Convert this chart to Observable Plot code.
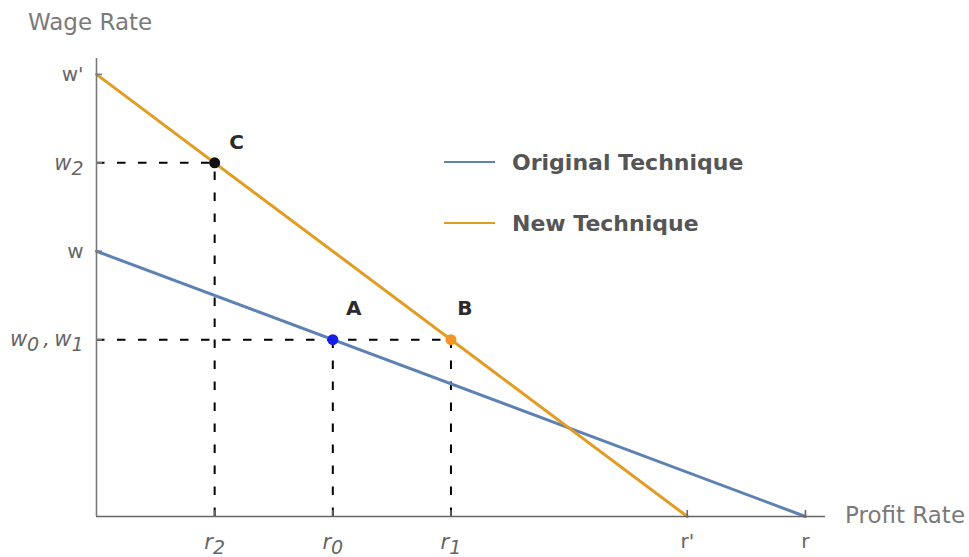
<!DOCTYPE html>
<html><head><meta charset="utf-8">
<script src="https://cdn.jsdelivr.net/npm/d3@7"></script>
<script src="https://cdn.jsdelivr.net/npm/@observablehq/plot@0.6"></script>
<style>
body{margin:0;background:#fff;}
#wrap{position:relative;width:969px;height:557px;font-family:"DejaVu Sans",sans-serif;}
.axt{position:absolute;color:#7a7a7a;font-size:23px;line-height:23px;white-space:nowrap;}
.leg{position:absolute;left:444px;white-space:nowrap;}
.leg .sw{position:absolute;left:0;width:51px;height:0;border-top:2.6px solid;}
.leg .tx{position:absolute;left:68px;top:0;font-weight:bold;font-size:22px;line-height:22px;color:#555;}
</style></head><body><div id="wrap"></div>
<script>
// ---- data ----
const originalTechnique = [{r: 0, w: 6}, {r: 12, w: 0}];
const newTechnique = [{r: 0, w: 10}, {r: 10, w: 0}];
const pointNames = ["A", "B", "C"];
const pointR = [4, 6, 2];
const pointW = [4, 4, 8];
const xTicks = [2, 4, 6, 10, 12];
const xTickLabels = ["r_2", "r_0", "r_1", "r'", "r"];
const yTicks = [10, 8, 6, 4];
const yTickLabels = ["w'", "w_2", "w", "w_0\u2009,\u2009w_1"];
const seriesNames = ["Original Technique", "New Technique"];

// ---- styles ----
const colors = {"Original Technique": "#5E81B5", "New Technique": "#E19C24"};
const pointColors = {A: "#1c1ce8", B: "#F39426", C: "#111111"};
const labelOffsets = {A: [21, -31], B: [14, -31], C: [22, -20]};
const xMax = 12.34, yMax = 10.36;
const M = {left: 96, right: 144, top: 58, bottom: 41};
const W = 969, H = 557;
const tickPxY = 6 * yMax / (H - M.top - M.bottom);
const tickPxX = 6 * xMax / (W - M.left - M.right);

const points = pointNames.map((name, i) => ({name, r: pointR[i], w: pointW[i]}));
const xt = xTicks.map((v, i) => ({v, label: xTickLabels[i]}));
const yt = yTicks.map((v, i) => ({v, label: yTickLabels[i]}));
const hGuides = points.filter(p => !points.some(q => q.w === p.w && q.r > p.r));

const labelMarks = pointNames.map(n => Plot.text(points.filter(p => p.name === n), {
  x: "r", y: "w", text: "name", dx: labelOffsets[n][0], dy: labelOffsets[n][1],
  fontSize: 20, fontWeight: "bold", fill: "#2b2b2b", fontFamily: "DejaVu Sans"
}));

const dash = {stroke: "#000", strokeWidth: 2, strokeDasharray: "8.5,12.5"};

const svg = Plot.plot({
  width: W, height: H,
  marginLeft: M.left, marginRight: M.right, marginTop: M.top, marginBottom: M.bottom,
  x: {domain: [0, xMax], axis: null},
  y: {domain: [0, yMax], axis: null},
  style: {fontFamily: "DejaVu Sans", background: "white"},
  marks: [
    Plot.ruleY(hGuides, {y: "w", x1: 0, x2: "r", ...dash}),
    Plot.ruleX(points, {x: "r", y1: 0, y2: "w", ...dash}),
    Plot.line(originalTechnique, {x: "r", y: "w", stroke: colors["Original Technique"], strokeWidth: 3}),
    Plot.line(newTechnique, {x: "r", y: "w", stroke: colors["New Technique"], strokeWidth: 3}),
    Plot.ruleY([0], {x1: 0, x2: xMax, stroke: "#666", strokeWidth: 1.6}),
    Plot.ruleX([0], {y1: 0, y2: yMax, stroke: "#7a7a7a", strokeWidth: 1.6}),
    Plot.ruleX(xt, {x: "v", y1: 0, y2: tickPxY, stroke: "#666", strokeWidth: 1.6}),
    Plot.ruleY(yt, {y: "v", x1: 0, x2: tickPxX, stroke: "#7a7a7a", strokeWidth: 1.6}),
    Plot.dot(points, {x: "r", y: "w", r: 5.5, fill: d => pointColors[d.name], stroke: "none"}),
    ...labelMarks,
    Plot.text(xt.filter(d => d.label.includes("_")), {x: "v", y: 0, text: "label", dy: 26, fontSize: 21, fontStyle: "italic", fill: "#666"}),
    Plot.text(xt.filter(d => !d.label.includes("_")), {x: "v", y: 0, text: "label", dy: 25, fontSize: 20, fill: "#666"}),
    Plot.text(yt.filter(d => d.label.includes("_")), {x: 0, y: "v", text: "label", dx: -13, textAnchor: "end", fontSize: 21, fontStyle: "italic", fill: "#666"}),
    Plot.text(yt.filter(d => !d.label.includes("_")), {x: 0, y: "v", text: "label", dx: -13, textAnchor: "end", fontSize: 20, fill: "#666"})
  ]
});

// subscripts as real text via tspans
const NS = "http://www.w3.org/2000/svg";
svg.querySelectorAll("text").forEach(t => {
  const s = t.textContent;
  if (!s.includes("_")) return;
  t.textContent = "";
  const parts = s.split(/(_\d)/).filter(Boolean);
  let shifted = false;
  for (const p of parts) {
    const ts = document.createElementNS(NS, "tspan");
    if (p.startsWith("_")) {
      ts.textContent = p.slice(1);
      ts.setAttribute("dy", "5");
      ts.setAttribute("font-size", "19");
      shifted = true;
    } else {
      ts.textContent = p;
      if (shifted) { ts.setAttribute("dy", "-5"); shifted = false; }
    }
    t.appendChild(ts);
  }
});

const wrap = document.getElementById("wrap");
wrap.appendChild(svg);
svg.style.position = "absolute"; svg.style.left = "0"; svg.style.top = "0";

function addDiv(cls, text, left, top) {
  const d = document.createElement("div");
  d.className = cls; d.textContent = text;
  d.style.left = left + "px"; d.style.top = top + "px";
  wrap.appendChild(d); return d;
}
addDiv("axt", "Wage Rate", 28, 10.5);
addDiv("axt", "Profit Rate", 845, 503.5);

const legendTops = [152.4, 212.5];
seriesNames.forEach((name, i) => {
  const g = document.createElement("div");
  g.className = "leg"; g.style.top = legendTops[i] + "px";
  const sw = document.createElement("div");
  sw.className = "sw"; sw.style.borderTopColor = colors[name]; sw.style.top = "9px";
  const tx = document.createElement("div");
  tx.className = "tx"; tx.textContent = name;
  g.appendChild(sw); g.appendChild(tx);
  wrap.appendChild(g);
});
</script></body></html>
